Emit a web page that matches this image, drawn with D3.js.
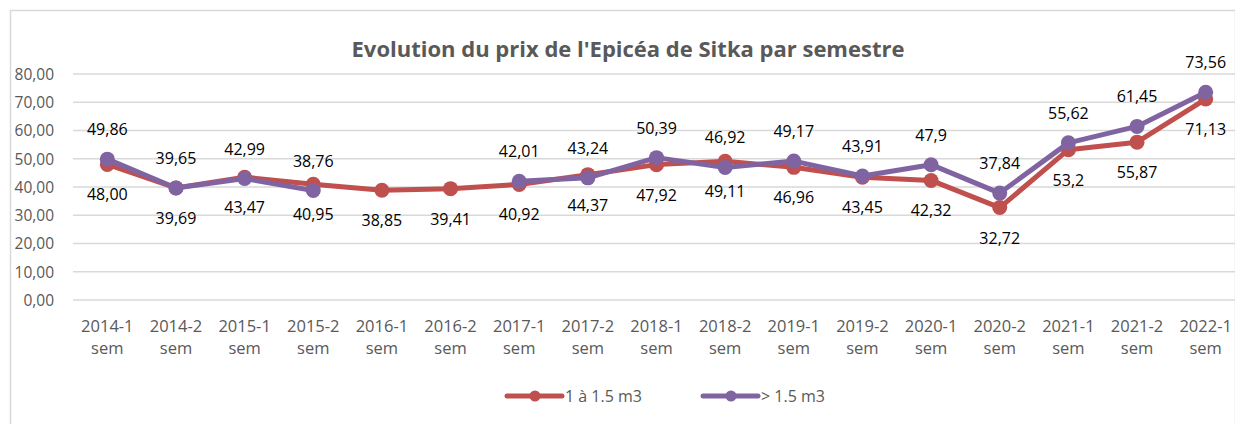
<!DOCTYPE html>
<html lang="fr">
<head>
    <meta charset="UTF-8">
    <script src="https://d3js.org/d3.v7.min.js"></script>
    <title>Evolution du prix de l'Epicéa de Sitka</title>
    <style>
        body { margin: 0; background: #fff; }
        text { font-family: "Open Sans", "Noto Sans", sans-serif; }
        .grid line { stroke: #d9d9d9; stroke-width: 1.5px; }
        .axis text { fill: #595959; font-size: 16.5px; }
        .lbl { fill: #000; font-size: 16px; }
    </style>
</head>
<body>
<script>
    // Data
    var semestres = ["2014-1", "2014-2", "2015-1", "2015-2", "2016-1", "2016-2", "2017-1", "2017-2", "2018-1",
        "2018-2", "2019-1", "2019-2", "2020-1", "2020-2", "2021-1", "2021-2", "2022-1"];
    var petits = [48.00, 39.69, 43.47, 40.95, 38.85, 39.41, 40.92, 44.37, 47.92, 49.11, 46.96, 43.45, 42.32, 32.72, 53.2, 55.87, 71.13];
    var petitsTxt = ["48,00", "39,69", "43,47", "40,95", "38,85", "39,41", "40,92", "44,37", "47,92", "49,11", "46,96", "43,45", "42,32", "32,72", "53,2", "55,87", "71,13"];
    var grands = [49.86, 39.65, 42.99, 38.76, null, null, 42.01, 43.24, 50.39, 46.92, 49.17, 43.91, 47.9, 37.84, 55.62, 61.45, 73.56];
    var grandsTxt = ["49,86", "39,65", "42,99", "38,76", "", "", "42,01", "43,24", "50,39", "46,92", "49,17", "43,91", "47,9", "37,84", "55,62", "61,45", "73,56"];
    var yTicks = [0, 10, 20, 30, 40, 50, 60, 70, 80];

    var W = 1235, H = 424;
    var plotLeft = 73, plotRight = 1240, plotTop = 74, plotBottom = 300;

    var svg = d3.select("body").append("svg")
        .attr("width", W)
        .attr("height", H);

    // chart border
    svg.append("rect")
        .attr("x", 10.5).attr("y", 10.5)
        .attr("width", W - 10).attr("height", H)
        .attr("fill", "none").attr("stroke", "#d9d9d9").attr("stroke-width", 1.5);

    var x = d3.scalePoint().domain(semestres).range([plotLeft, plotRight]).padding(0.5);
    var y = d3.scaleLinear().domain([0, 80]).range([plotBottom, plotTop]);

    // title
    svg.append("text")
        .attr("x", 628).attr("y", 57)
        .attr("text-anchor", "middle")
        .attr("fill", "#595959")
        .style("font-size", "22px").style("font-weight", "bold")
        .text("Evolution du prix de l'Epicéa de Sitka par semestre");

    // gridlines
    svg.append("g").attr("class", "grid")
        .selectAll("line").data(yTicks).enter().append("line")
        .attr("x1", plotLeft).attr("x2", W)
        .attr("y1", function (d) { return y(d); })
        .attr("y2", function (d) { return y(d); });

    // y axis
    var yAxis = svg.append("g")
        .attr("transform", "translate(" + (plotLeft - 16) + ",0)")
        .call(d3.axisLeft(y).tickValues(yTicks).tickSize(0).tickFormat(function (d) { return d3.format(".2f")(d).replace(".", ","); }));
    yAxis.select(".domain").remove();
    yAxis.selectAll("text").attr("dy", "0.35em").attr("fill", "#595959").style("font-size", "15.5px");

    // x axis (two lines)
    var xAxis = svg.append("g").attr("class", "axis");
    semestres.forEach(function (s) {
        var t = xAxis.append("text").attr("text-anchor", "middle")
            .attr("x", x(s)).attr("y", 332);
        t.append("tspan").attr("x", x(s)).text(s);
        t.append("tspan").attr("x", x(s)).attr("dy", 22).text("sem");
    });

    var series = [
        { name: "1 à 1.5 m3", vals: petits, txt: petitsTxt, color: "#c0504d", dy: 36 },
        { name: "> 1.5 m3", vals: grands, txt: grandsTxt, color: "#8064a2", dy: -24 }
    ];

    var line = d3.line()
        .defined(function (d) { return d.v !== null; })
        .x(function (d) { return x(d.s); })
        .y(function (d) { return y(d.v); });

    series.forEach(function (se) {
        var pts = semestres.map(function (s, i) { return { s: s, v: se.vals[i], t: se.txt[i] }; });
        svg.append("path").datum(pts)
            .attr("d", line)
            .attr("fill", "none")
            .attr("stroke", se.color)
            .attr("stroke-width", 5)
            .attr("stroke-linejoin", "round")
            .attr("stroke-linecap", "round");
        var valid = pts.filter(function (d) { return d.v !== null; });
        svg.append("g").selectAll("circle").data(valid).enter().append("circle")
            .attr("cx", function (d) { return x(d.s); })
            .attr("cy", function (d) { return y(d.v); })
            .attr("r", 7.5)
            .attr("fill", se.color);
        se.pts = valid;
    });

    // data labels on top
    series.forEach(function (se) {
        svg.append("g").selectAll("text").data(se.pts).enter().append("text")
            .attr("class", "lbl")
            .attr("text-anchor", "middle")
            .attr("x", function (d) { return x(d.s); })
            .attr("y", function (d) { return y(d.v) + se.dy; })
            .text(function (d) { return d.t; });
    });

    // legend
    var legend = svg.append("g");
    [{ x: 507 }, { x: 703 }].forEach(function (p, i) {
        var se = series[i];
        legend.append("line")
            .attr("x1", p.x).attr("x2", p.x + 55)
            .attr("y1", 396).attr("y2", 396)
            .attr("stroke", se.color).attr("stroke-width", 5).attr("stroke-linecap", "round");
        legend.append("circle").attr("cx", p.x + 28).attr("cy", 396).attr("r", 5.5).attr("fill", se.color);
        legend.append("text")
            .attr("x", p.x + 58).attr("y", 402)
            .attr("fill", "#595959").style("font-size", "16px")
            .text(se.name);
    });
</script>
</body>
</html>
